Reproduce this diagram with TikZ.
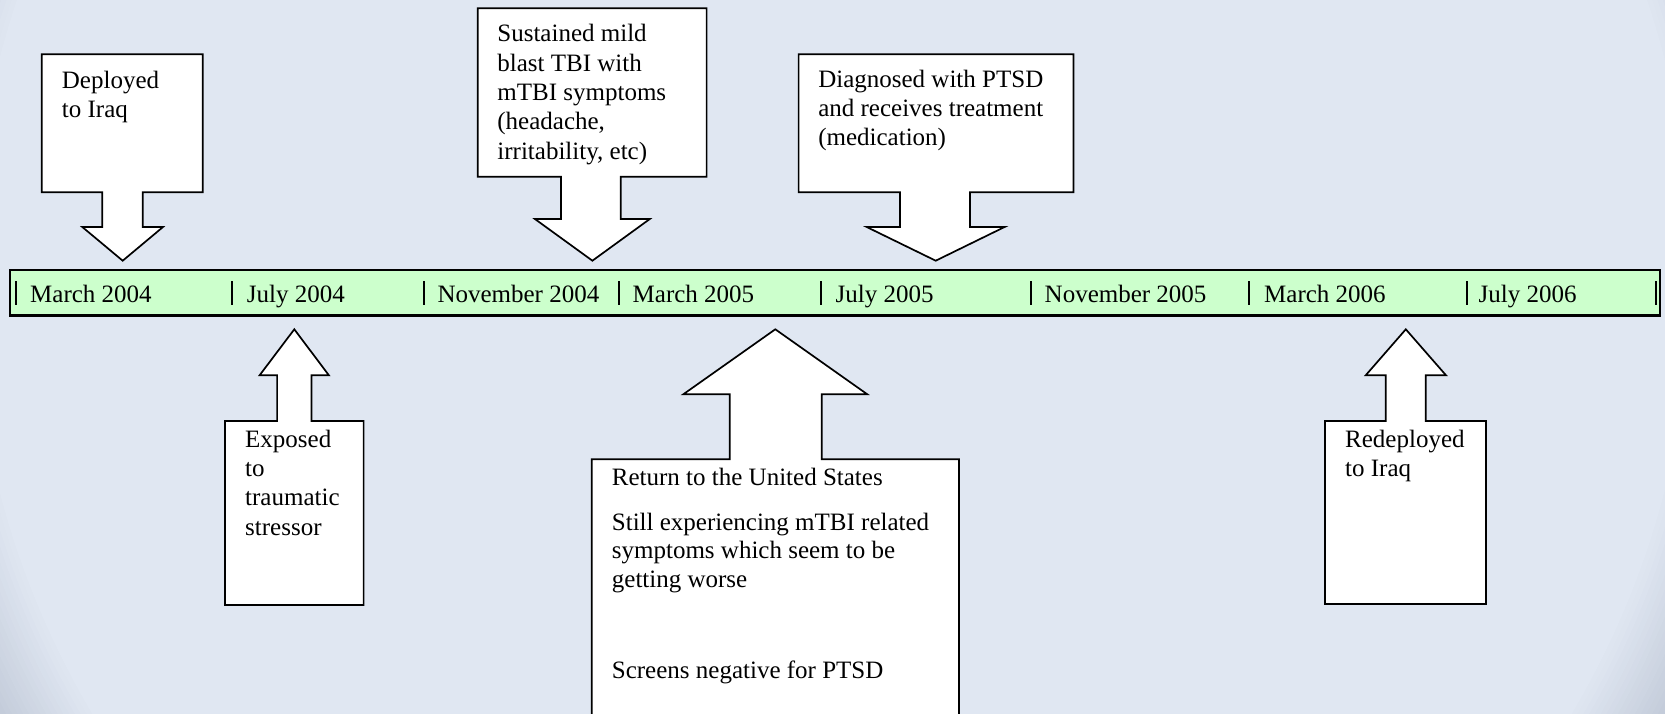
\documentclass[tikz,border=0pt]{standalone}
\usepackage{fontspec}
\setmainfont{Liberation Serif}
\definecolor{bglight}{HTML}{E0E7F2}
\definecolor{bgdark}{HTML}{C4CCDA}
\definecolor{barfill}{HTML}{CCFFCC}
\tikzset{
  callout/.style={draw=black, fill=white, line width=1.7pt, line join=miter},
  datemark/.style={draw=black, line width=2pt},
  datelabel/.style={anchor=base west, inner sep=0pt, font=\fontsize{25}{29.5}\selectfont},
  notetext/.style={anchor=base west, inner sep=0pt},
}
% multi-line note whose reference point is the first baseline
\newcommand\notelines[2][29.4]{\parbox[t]{420pt}{\fontsize{25}{#1}\selectfont\raggedright #2}}
\begin{document}
\begin{tikzpicture}[x=1pt,y=-1pt]
\useasboundingbox (0,0) rectangle (1665,714);

% slide background with darker lower corners
\begin{scope}
  \clip (0,0) rectangle (1665,714);
  \fill[bgdark] (0,0) rectangle (1665,714);
  \foreach \r in {940,935,...,860} {
    \pgfmathtruncatemacro\p{(\r-860)*100/80}
    \fill[bgdark!\p!bglight] (832,275) circle[radius=\r pt];
  }
\end{scope}

% timeline bar
\node[draw=black, fill=barfill, line width=2.3pt, minimum width=1650pt,
      minimum height=45.5pt, inner sep=0pt, outer sep=0pt] (bar) at (835,292.6) {};
\foreach \x in {15.7,232.3,423.5,618.6,821.1,1031.4,1248.8,1466.5,1656}
  \draw[datemark] (\x,281) -- (\x,305);
\node[datelabel] (m04) at (30,302.7)    {March 2004};
\node[datelabel] (j04) at (246.7,302.7) {July 2004};
\node[datelabel] (n04) at (437.3,302.7) {November 2004};
\node[datelabel] (m05) at (632.5,302.7) {March 2005};
\node[datelabel] (j05) at (835.4,302.7) {July 2005};
\node[datelabel] (n05) at (1044.5,302.7) {November 2005};
\node[datelabel] (m06) at (1264,302.7)  {March 2006};
\node[datelabel] (j06) at (1478.4,302.7) {July 2006};

% down-arrow callouts above the bar
\draw[callout] (41.7,54.3) -- (202.7,54.3) -- (202.7,192.3) -- (142.7,192.3)
  -- (142.7,227) -- (163,227) -- (122.7,260.7) -- (82.3,227) -- (102.3,227)
  -- (102.3,192.3) -- (41.7,192.3) -- cycle;
\node[notetext] (deployed) at (61.7,88.3) {\notelines[29.7]{Deployed\\to Iraq}};

\draw[callout] (477.7,8.3) -- (706.6,8.3) -- (706.6,176.7) -- (620.8,176.7)
  -- (620.8,219) -- (649.8,219) -- (592.4,260.7) -- (534.9,219) -- (560.9,219)
  -- (560.9,176.7) -- (477.7,176.7) -- cycle;
\node[notetext] (blast) at (497.2,41.7)
  {\notelines{Sustained mild\\blast TBI with\\mTBI symptoms\\(headache,\\irritability, etc)}};

\draw[callout] (798.6,54.3) -- (1073.5,54.3) -- (1073.5,192.3) -- (969.9,192.3)
  -- (969.9,227) -- (1004.6,227) -- (935.7,260.7) -- (866.7,227) -- (900,227)
  -- (900,192.3) -- (798.6,192.3) -- cycle;
\node[notetext] (ptsd) at (818.1,87.3)
  {\notelines[29.2]{Diagnosed with PTSD\\and receives treatment\\(medication)}};

% up-arrow callouts below the bar
\draw[callout] (225,605) -- (363.6,605) -- (363.6,421) -- (311.4,421)
  -- (311.4,375.3) -- (328.9,375.3) -- (294.3,329.3) -- (259.6,375.3) -- (277.1,375.3)
  -- (277.1,421) -- (225,421) -- cycle;
\node[notetext] (exposed) at (245,447.7)
  {\notelines[29.1]{Exposed\\to\\traumatic\\stressor}};

\begin{scope}
  \clip (0,0) rectangle (1665,714);
  \draw[callout] (591.7,730) -- (959,730) -- (959,459.3) -- (821.7,459.3)
    -- (821.7,394.3) -- (867.3,394.3) -- (775.3,329.3) -- (683.3,394.3) -- (729.7,394.3)
    -- (729.7,459.3) -- (591.7,459.3) -- cycle;
\end{scope}
\node[notetext] (return) at (611.7,485) {\notelines{Return to the United States}};
\node[notetext] (still) at (611.7,530.5)
  {\notelines[28.3]{Still experiencing mTBI related\\symptoms which seem to be\\getting worse}};
\node[notetext] (screen) at (611.7,678.8) {\notelines{Screens negative for PTSD}};

\draw[callout] (1325,604) -- (1486,604) -- (1486,421) -- (1425.7,421)
  -- (1425.7,375.3) -- (1446,375.3) -- (1405.8,329.3) -- (1365.7,375.3) -- (1385.7,375.3)
  -- (1385.7,421) -- (1325,421) -- cycle;
\node[notetext] (redeployed) at (1345,447.7) {\notelines[29]{Redeployed\\to Iraq}};
\end{tikzpicture}
\end{document}
